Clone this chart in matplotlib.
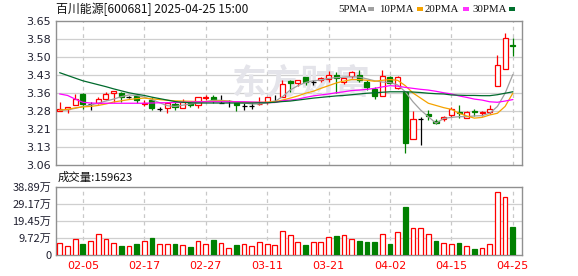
import matplotlib
matplotlib.use("Agg")
import matplotlib.pyplot as plt
from matplotlib.patches import Rectangle

# K线数据
opens = [3.283, 3.288, 3.305, 3.351, 3.310, 3.313, 3.332, 3.354, 3.354, 3.337,
         3.343, 3.311, 3.326, 3.290, 3.292, 3.309, 3.292, 3.315, 3.306, 3.333,
         3.337, 3.315, 3.323, 3.315, 3.302, 3.303, 3.308, 3.317, 3.323, 3.340,
         3.405, 3.395, 3.419, 3.401, 3.408, 3.411, 3.429, 3.401, 3.426, 3.429,
         3.401, 3.370, 3.343, 3.419, 3.374, 3.360, 3.165, 3.248, 3.269, 3.240,
         3.247, 3.265, 3.278, 3.251, 3.283, 3.272, 3.278, 3.384, 3.452, 3.550]
highs = [3.318, 3.299, 3.351, 3.355, 3.320, 3.340, 3.360, 3.362, 3.358, 3.344,
         3.345, 3.326, 3.340, 3.299, 3.319, 3.319, 3.330, 3.318, 3.337, 3.347,
         3.347, 3.347, 3.326, 3.315, 3.315, 3.315, 3.337, 3.337, 3.347, 3.408,
         3.408, 3.408, 3.419, 3.410, 3.422, 3.447, 3.440, 3.415, 3.445, 3.450,
         3.408, 3.380, 3.449, 3.426, 3.426, 3.360, 3.283, 3.255, 3.285, 3.248,
         3.262, 3.298, 3.306, 3.283, 3.290, 3.283, 3.304, 3.511, 3.602, 3.580]
lows = [3.283, 3.272, 3.305, 3.290, 3.285, 3.311, 3.326, 3.319, 3.319, 3.333,
        3.313, 3.300, 3.286, 3.280, 3.272, 3.285, 3.292, 3.299, 3.292, 3.326,
        3.315, 3.313, 3.299, 3.283, 3.285, 3.288, 3.306, 3.310, 3.317, 3.340,
        3.360, 3.382, 3.386, 3.386, 3.400, 3.400, 3.354, 3.390, 3.415, 3.400,
        3.366, 3.330, 3.343, 3.390, 3.370, 3.110, 3.165, 3.142, 3.243, 3.228,
        3.240, 3.256, 3.252, 3.251, 3.260, 3.260, 3.270, 3.384, 3.452, 3.505]
closes = [3.288, 3.299, 3.329, 3.309, 3.310, 3.329, 3.351, 3.362, 3.340, 3.337,
          3.326, 3.315, 3.292, 3.290, 3.313, 3.299, 3.319, 3.306, 3.337, 3.340,
          3.326, 3.315, 3.323, 3.306, 3.302, 3.303, 3.311, 3.337, 3.323, 3.392,
          3.394, 3.408, 3.401, 3.401, 3.418, 3.429, 3.415, 3.415, 3.440, 3.408,
          3.381, 3.343, 3.426, 3.397, 3.419, 3.151, 3.247, 3.248, 3.261, 3.233,
          3.258, 3.290, 3.272, 3.278, 3.277, 3.277, 3.288, 3.470, 3.579, 3.547]

# 成交量 (万)
volumes = [6.6, 4.9, 8.9, 6.3, 7.8, 11.8, 8.9, 6.6, 5.1, 4.9,
           6.3, 7.8, 9.7, 6.1, 6.1, 6.3, 5.5, 4.6, 7.8, 6.1,
           8.5, 6.6, 3.8, 5.7, 6.1, 4.9, 7.2, 6.1, 5.5, 13.5,
           11.2, 7.2, 5.7, 7.2, 7.2, 10.1, 10.8, 11.2, 8.9, 8.0,
           7.4, 7.4, 11.8, 6.3, 12.9, 27.3, 15.2, 15.2, 11.8, 8.0,
           6.6, 6.1, 6.8, 4.9, 3.4, 4.0, 6.1, 36.2, 33.4, 15.96]
vol_up = [1, 1, 1, 0, 1, 1, 1, 1, 0, 1,
          0, 1, 0, 1, 1, 0, 1, 0, 1, 1,
          0, 1, 1, 0, 1, 1, 1, 1, 1, 1,
          1, 1, 0, 1, 1, 1, 0, 1, 1, 0,
          0, 0, 1, 0, 1, 0, 1, 1, 1, 0,
          1, 1, 0, 1, 0, 1, 1, 1, 1, 0]

ma5 = [3.284, 3.286, 3.292, 3.300, 3.306, 3.313, 3.322, 3.330, 3.340, 3.347,
       3.345, 3.338, 3.328, 3.315, 3.303, 3.300, 3.305, 3.310, 3.315, 3.320,
       3.325, 3.325, 3.322, 3.318, 3.314, 3.310, 3.310, 3.315, 3.320, 3.340,
       3.367, 3.385, 3.398, 3.405, 3.408, 3.415, 3.418, 3.420, 3.422, 3.420,
       3.413, 3.405, 3.400, 3.398, 3.388, 3.360, 3.319, 3.285, 3.258, 3.231,
       3.251, 3.255, 3.258, 3.258, 3.261, 3.262, 3.272, 3.300, 3.354, 3.430]
ma10 = [3.285, 3.288, 3.294, 3.298, 3.300, 3.304, 3.310, 3.318, 3.323, 3.328,
        3.332, 3.334, 3.331, 3.328, 3.325, 3.323, 3.322, 3.321, 3.320, 3.320,
        3.321, 3.322, 3.321, 3.319, 3.318, 3.317, 3.317, 3.318, 3.319, 3.326,
        3.334, 3.343, 3.354, 3.362, 3.374, 3.385, 3.396, 3.404, 3.410, 3.410,
        3.407, 3.403, 3.407, 3.410, 3.407, 3.385, 3.355, 3.334, 3.313, 3.304,
        3.295, 3.288, 3.272, 3.261, 3.252, 3.255, 3.265, 3.272, 3.300, 3.354]
ma20 = [3.351, 3.345, 3.330, 3.317, 3.314, 3.313, 3.313, 3.313, 3.313, 3.313,
        3.313, 3.313, 3.314, 3.315, 3.315, 3.316, 3.317, 3.318, 3.319, 3.319,
        3.319, 3.319, 3.319, 3.319, 3.319, 3.318, 3.317, 3.316, 3.316, 3.323,
        3.326, 3.330, 3.337, 3.343, 3.347, 3.351, 3.356, 3.360, 3.365, 3.367,
        3.370, 3.374, 3.380, 3.385, 3.383, 3.378, 3.374, 3.370, 3.367, 3.362,
        3.356, 3.351, 3.343, 3.337, 3.330, 3.326, 3.319, 3.317, 3.322, 3.328]
ma30 = [3.438, 3.427, 3.416, 3.405, 3.397, 3.389, 3.381, 3.372, 3.364, 3.356,
        3.350, 3.345, 3.338, 3.332, 3.326, 3.320, 3.317, 3.315, 3.314, 3.314,
        3.314, 3.314, 3.314, 3.314, 3.314, 3.314, 3.315, 3.315, 3.317, 3.320,
        3.322, 3.326, 3.330, 3.334, 3.337, 3.340, 3.343, 3.345, 3.348, 3.351,
        3.354, 3.356, 3.358, 3.360, 3.360, 3.360, 3.359, 3.357, 3.354, 3.352,
        3.351, 3.347, 3.346, 3.345, 3.345, 3.344, 3.344, 3.348, 3.354, 3.360]

date_pos = [3, 11, 19, 27, 35, 43, 51, 59]
date_labels = ["02-05", "02-17", "02-27", "03-11", "03-21", "04-02", "04-15", "04-25"]
price_ticks = [3.06, 3.13375, 3.2075, 3.28125, 3.355, 3.42875, 3.5025, 3.57625, 3.65]
price_labels = ["3.06", "3.13", "3.21", "3.28", "3.36", "3.43", "3.50", "3.58", "3.65"]
vol_ticks = [0, 9.72, 19.45, 29.17, 38.89]
vol_labels = ["0", "9.72万", "19.45万", "29.17万", "38.89万"]

RED = "#ff0000"
GREEN = "#008000"
CJK = ["Noto Sans CJK SC", "DejaVu Sans"]

W, H = 578, 276
fig = plt.figure(figsize=(W / 100, H / 100), dpi=100)
ax = fig.add_axes([56 / W, 1 - 165 / H, 466 / W, 144 / H])
vax = fig.add_axes([56 / W, 1 - 255 / H, 466 / W, 68 / H])

n = len(closes)
for a in (ax, vax):
    a.set_xlim(-0.5, n + 0.2)
    for s in a.spines.values():
        s.set_color("#909090")
        s.set_linewidth(1)
    a.tick_params(length=0)
    for p in date_pos:
        a.axvline(p, color="#c8c8c8", lw=0.9, ls=(0, (3, 3)), zorder=0)

# 价格区
ax.set_ylim(3.06, 3.65)
ax.set_yticks(price_ticks)
ax.set_yticklabels(price_labels, fontsize=8, color="#202030")
ax.set_xticks([])
for t in price_ticks[1:-1]:
    ax.axhline(t, color="#cfcfcf", lw=0.9, zorder=0)

ax.text(31.5, 3.395, "东方财富", fontsize=25, color="#e4e4ea", family=CJK,
        ha="center", va="center", fontweight="bold", zorder=0)

bw = 0.66
for i in range(n):
    o, h, l, c = opens[i], highs[i], lows[i], closes[i]
    if c > o:
        col = RED
        ax.vlines(i, l, h, color=col, lw=0.9, zorder=2)
        ax.bar(i, c - o, bottom=o, width=bw, facecolor="white", edgecolor=col,
               lw=0.9, zorder=3)
    elif c < o:
        col = GREEN
        ax.vlines(i, l, h, color=col, lw=0.9, zorder=2)
        ax.bar(i, o - c, bottom=c, width=bw, facecolor=col, edgecolor=col,
               lw=0.9, zorder=3)
    else:
        ax.vlines(i, l, h, color="black", lw=0.9, zorder=2)
        ax.hlines(o, i - bw / 2, i + bw / 2, color="black", lw=0.9, zorder=3)

x = list(range(n))
ax.plot(x, ma5, color="#a0a0a0", lw=0.9, zorder=4)
ax.plot(x, ma10, color="#f5a300", lw=0.9, zorder=4)
ax.plot(x, ma20, color="#ff00ff", lw=0.9, zorder=4)
ax.plot(x, ma30, color="#006a2c", lw=0.9, zorder=4)

# 成交量区
vax.set_ylim(0, 38.89)
vax.set_yticks(vol_ticks)
vax.set_yticklabels(vol_labels, fontsize=8, color="#202030", family=CJK)
for t in vol_ticks[1:-1]:
    vax.axhline(t, color="#cfcfcf", lw=0.9, zorder=0)
for i in range(n):
    if vol_up[i]:
        vax.bar(i, volumes[i], width=0.62, facecolor="white", edgecolor=RED,
                lw=0.9, zorder=3)
    else:
        vax.bar(i, volumes[i], width=0.62, facecolor=GREEN, edgecolor=GREEN,
                lw=0.9, zorder=3)
vax.set_xticks(date_pos)
vax.set_xticklabels(date_labels, fontsize=8, color=RED)
vax.tick_params(axis="x", pad=4)

# 标题和图例
fig.text(56 / W, 1 - 9 / H, "百川能源[600681] 2025-04-25 15:00", fontsize=8.6,
         family=CJK, va="center", ha="left", color="#111111")
fig.text(58 / W, 1 - 177 / H, "成交量:159623", fontsize=8.2, family=CJK,
         va="center", ha="left", color="#111111")

legend = [("5PMA", 338, 368, "#a0a0a0"), ("10PMA", 379, 417, "#f5a300"),
          ("20PMA", 425, 463, "#ff33ff"), ("30PMA", 472, 509, "#00702d")]
for name, tx, sx, col in legend:
    fig.text(tx / W, 1 - 9 / H, name, fontsize=7.8, family="Liberation Serif",
             va="center", ha="left", color="#111111")
    fig.patches.append(Rectangle((sx / W, 1 - 11 / H), 6 / W, 4 / H,
                                 transform=fig.transFigure, facecolor=col,
                                 edgecolor="none"))

fig.savefig("out.png", dpi=100)
